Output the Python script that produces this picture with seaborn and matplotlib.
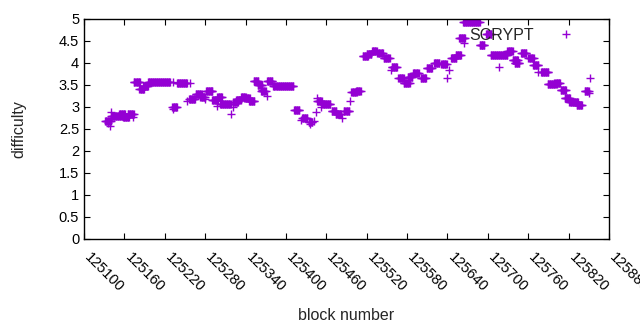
import numpy as np
import pandas as pd
import matplotlib
matplotlib.use('Agg')
import matplotlib.pyplot as plt
import seaborn as sns

# difficulty per block, stored as runs (first block, last block, difficulty)
run_first = [125136, 125138, 125131, 125140, 125140, 125152, 125158, 125165, 125173,
             125174, 125182, 125188, 125195, 125232, 125232, 125231, 125238, 125257,
             125253, 125256, 125266, 125273, 125280, 125281, 125290, 125290, 125298,
             125298, 125302, 125318, 125322, 125322, 125326, 125333, 125338, 125345,
             125352, 125358, 125365, 125363, 125372, 125372, 125381, 125412, 125423,
             125424, 125436, 125441, 125434, 125444, 125446, 125446, 125452, 125454,
             125468, 125474, 125483, 125486, 125495, 125497, 125504, 125514, 125520,
             125528, 125536, 125545, 125556, 125557, 125567, 125575, 125581, 125589,
             125600, 125609, 125620, 125631, 125640, 125642, 125645, 125652, 125657,
             125665, 125663, 125691, 125688, 125697, 125704, 125717, 125729, 125737,
             125740, 125749, 125760, 125767, 125775, 125779, 125789, 125799, 125808,
             125814, 125821, 125832, 125844, 125852, 125850]
run_last = [125136, 125138, 125140, 125140, 125158, 125161, 125167, 125174, 125173,
            125183, 125189, 125195, 125228, 125232, 125232, 125238, 125253, 125257,
            125253, 125265, 125275, 125280, 125280, 125290, 125290, 125299, 125305,
            125298, 125318, 125318, 125322, 125329, 125333, 125340, 125346, 125353,
            125359, 125365, 125365, 125370, 125372, 125380, 125411, 125420, 125423,
            125432, 125436, 125441, 125439, 125444, 125446, 125453, 125452, 125466,
            125475, 125482, 125483, 125494, 125495, 125505, 125511, 125522, 125527,
            125535, 125544, 125554, 125556, 125565, 125575, 125584, 125588, 125597,
            125608, 125617, 125628, 125639, 125640, 125642, 125653, 125660, 125666,
            125665, 125688, 125691, 125695, 125705, 125729, 125717, 125737, 125745,
            125747, 125757, 125768, 125775, 125775, 125790, 125802, 125807, 125816,
            125822, 125834, 125840, 125850, 125852, 125850]
run_diff = [2.63, 2.57, 2.69, 2.89, 2.80, 2.83, 2.77, 2.83, 2.78,
            3.56, 3.42, 3.48, 3.56, 3.56, 2.96, 2.99, 3.54, 3.54,
            3.14, 3.18, 3.29, 3.23, 3.18, 3.36, 3.36, 3.17, 3.22,
            3.02, 3.06, 2.83, 2.99, 3.11, 3.16, 3.22, 3.20, 3.14,
            3.58, 3.50, 3.39, 3.37, 3.24, 3.58, 3.48, 2.93, 2.70,
            2.74, 2.61, 2.69, 2.66, 2.89, 3.20, 3.14, 2.99, 3.06,
            2.91, 2.83, 2.74, 2.91, 3.14, 3.33, 3.36, 4.16, 4.20,
            4.27, 4.22, 4.11, 3.84, 3.90, 3.65, 3.54, 3.69, 3.77,
            3.67, 3.88, 3.99, 3.97, 3.67, 3.84, 4.11, 4.18, 4.56,
            4.45, 4.93, 4.41, 4.41, 4.67, 4.18, 3.90, 4.27, 4.07,
            3.99, 4.22, 4.12, 3.95, 3.80, 3.79, 3.52, 3.54, 3.39,
            3.21, 3.12, 3.05, 3.36, 3.67, 3.32]

x_ticks = list(range(125100, 125881, 60))
y_ticks = [0, 0.5, 1, 1.5, 2, 2.5, 3, 3.5, 4, 4.5, 5]

blocks, diffs = [], []
for a, b, d in zip(run_first, run_last, run_diff):
    for blk in range(a, b + 1):
        blocks.append(blk)
        diffs.append(d)
df = pd.DataFrame({'block': blocks, 'difficulty': diffs})

sns.set_style('ticks')
plt.rcParams['font.family'] = ['Liberation Sans', 'DejaVu Sans']
plt.rcParams['font.size'] = 10

fig = plt.figure(figsize=(6.4, 3.3), dpi=100)
ax = fig.add_axes([84 / 640, 91 / 330, 525 / 640, 220 / 330])

sns.scatterplot(data=df, x='block', y='difficulty', marker='+', s=30,
                color='#9400d3', linewidth=1, ax=ax, legend=False)
ax.plot([], [], '+', color='#9400d3', ms=5.5, mew=1, label='SCRYPT')

ax.set_xlim(125100, 125880)
ax.set_ylim(0, 5)
ax.set_xticks(x_ticks)
ax.set_xticklabels([str(t) for t in x_ticks], rotation=-45, ha='left', va='baseline',
                   rotation_mode='anchor')
ax.set_yticks(y_ticks)
ax.set_yticklabels([f'{v:g}' for v in y_ticks])
ax.tick_params(direction='in', top=True, right=True, length=4, width=0.8,
               colors='black', labelsize=10.5)
ax.tick_params(axis='x', pad=14)
for s in ax.spines.values():
    s.set_visible(True)
    s.set_linewidth(1)
    s.set_color('black')

ax.set_xlabel('block number', fontsize=11.5, labelpad=9)
ax.set_ylabel('difficulty', fontsize=11.5, labelpad=23)

ax.legend(loc='upper right', bbox_to_anchor=(0.96, 0.99), frameon=False,
          markerfirst=False, fontsize=11.5, handletextpad=1.0, borderaxespad=0)

fig.savefig('out.png', dpi=100)
